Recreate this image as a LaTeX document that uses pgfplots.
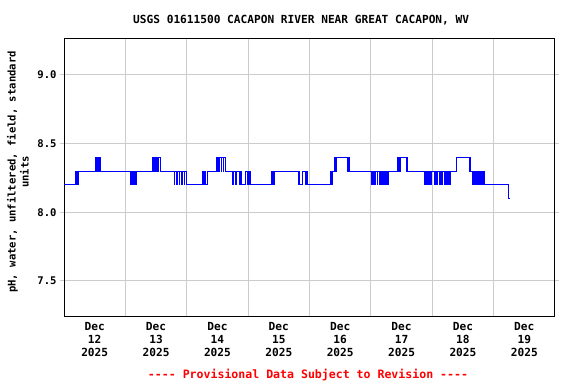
\documentclass[border=0pt]{standalone}
\usepackage{fontspec}
\usepackage{pgfplots}
\pgfplotsset{compat=1.18}
\newfontfamily\usgs{DejaVu Sans Mono}
\definecolor{gridgray}{RGB}{204,204,204}
\definecolor{usgsred}{RGB}{255,0,0}
\definecolor{usgsblue}{RGB}{0,0,255}
\pgfplotstableread{
d v
0.000 8.2
0.184 8.3
0.204 8.2
0.215 8.3
0.225 8.2
0.233 8.3
0.516 8.4
0.529 8.3
0.537 8.4
0.559 8.3
0.575 8.4
0.598 8.3
1.086 8.2
1.099 8.3
1.112 8.2
1.124 8.3
1.132 8.2
1.148 8.3
1.156 8.2
1.173 8.3
1.445 8.4
1.458 8.3
1.471 8.4
1.490 8.3
1.503 8.4
1.523 8.3
1.536 8.4
1.564 8.3
1.792 8.2
1.803 8.3
1.832 8.2
1.844 8.3
1.873 8.2
1.884 8.3
1.917 8.2
1.927 8.3
1.954 8.2
1.966 8.3
1.987 8.2
2.253 8.3
2.264 8.2
2.288 8.3
2.301 8.2
2.340 8.3
2.476 8.4
2.487 8.3
2.500 8.4
2.516 8.3
2.533 8.4
2.557 8.3
2.573 8.4
2.590 8.3
2.598 8.4
2.622 8.3
2.741 8.2
2.757 8.3
2.801 8.2
2.813 8.3
2.855 8.2
2.871 8.3
2.894 8.2
2.964 8.3
2.985 8.2
2.997 8.3
3.013 8.2
3.025 8.3
3.038 8.2
3.383 8.3
3.393 8.2
3.404 8.3
3.415 8.2
3.425 8.3
3.816 8.2
3.827 8.3
3.839 8.2
3.888 8.3
3.941 8.2
3.953 8.3
3.969 8.2
4.349 8.3
4.360 8.2
4.370 8.3
4.414 8.4
4.425 8.3
4.435 8.4
4.621 8.3
4.631 8.4
4.647 8.3
5.012 8.2
5.028 8.3
5.038 8.2
5.049 8.3
5.065 8.2
5.077 8.3
5.103 8.2
5.114 8.3
5.135 8.2
5.147 8.3
5.163 8.2
5.174 8.3
5.191 8.2
5.200 8.3
5.217 8.2
5.228 8.3
5.240 8.2
5.256 8.3
5.266 8.2
5.282 8.3
5.435 8.4
5.445 8.3
5.456 8.4
5.472 8.3
5.484 8.4
5.582 8.3
5.591 8.4
5.603 8.3
5.868 8.2
5.880 8.3
5.896 8.2
5.907 8.3
5.924 8.2
5.933 8.3
5.950 8.2
5.961 8.3
5.972 8.2
5.982 8.3
6.031 8.2
6.042 8.3
6.054 8.2
6.064 8.3
6.075 8.2
6.091 8.3
6.124 8.2
6.135 8.3
6.145 8.2
6.161 8.3
6.205 8.2
6.217 8.3
6.226 8.2
6.243 8.3
6.254 8.2
6.266 8.3
6.287 8.2
6.298 8.3
6.396 8.4
6.601 8.3
6.608 8.4
6.617 8.3
6.656 8.2
6.666 8.3
6.678 8.2
6.694 8.3
6.705 8.2
6.722 8.3
6.731 8.2
6.743 8.3
6.754 8.2
6.764 8.3
6.780 8.2
6.792 8.3
6.803 8.2
6.813 8.3
6.824 8.2
6.840 8.3
6.857 8.2
7.248 8.1
7.264 8.1
}\phdata
\begin{document}
\begin{tikzpicture}
\useasboundingbox (0,0) rectangle (576bp,384bp);
\begin{axis}[
  at={(64bp,68bp)}, anchor=south west,
  scale only axis, width=491bp, height=277bp,
  xmin=0, xmax=8, ymin=7.245, ymax=9.26,
  xtick={0,1,...,8},
  xticklabels={},
  extra x ticks={0.5,1.5,2.5,3.5,4.5,5.5,6.5,7.5},
  extra x tick labels={Dec\\12\\2025,Dec\\13\\2025,Dec\\14\\2025,Dec\\15\\2025,Dec\\16\\2025,Dec\\17\\2025,Dec\\18\\2025,Dec\\19\\2025},
  extra x tick style={grid=none, major tick length=0pt},
  xticklabel style={align=center, font=\usgs\bfseries\fontsize{11.2}{13}\selectfont, yshift=-3bp},
  x tick style={draw=none},
  ytick={7.5,8.0,8.5,9.0},
  y tick style={gridgray, line width=1bp},
  major tick length=4bp,
  tick align=outside,
  yticklabel style={font=\usgs\bfseries\fontsize{10.6}{12}\selectfont,
    /pgf/number format/.cd, fixed, fixed zerofill, precision=1, assume math mode=true},
  grid=major,
  major grid style={gridgray, line width=1bp},
  axis line style={black, line width=1bp},
  ylabel={pH, water, unfiltered, field, standard\\units},
  ylabel style={align=center, font=\usgs\bfseries\fontsize{10.6}{13}\selectfont,
    at={(axis description cs:-0.0937,0.52)}, anchor=center},
  clip mode=individual,
]
\addplot[const plot, usgsblue, line width=0.85bp] table[x=d, y=v] {\phdata};
\node[font=\usgs\bfseries\fontsize{11.2}{13}\selectfont, anchor=center]
  at (axis description cs:0.483,1.0686) {USGS 01611500 CACAPON RIVER NEAR GREAT CACAPON, WV};
\node[font=\usgs\bfseries\fontsize{11.6}{13}\selectfont, text=usgsred, anchor=center]
  at (axis description cs:0.497,-0.213) {---- Provisional Data Subject to Revision ----};
\end{axis}
\end{tikzpicture}
\end{document}
